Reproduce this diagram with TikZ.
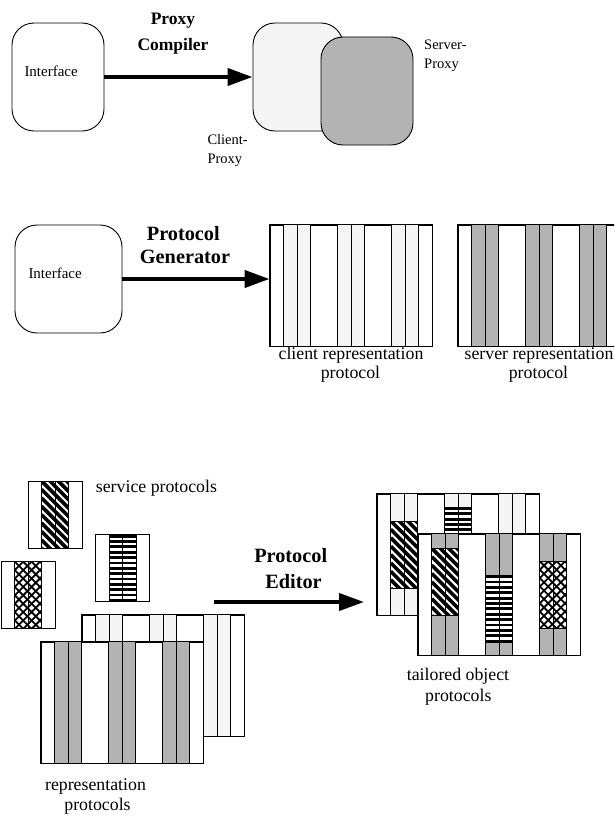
\documentclass[tikz,border=0pt]{standalone}
\usepackage{fontspec}
\setmainfont{Liberation Serif}
\usetikzlibrary{arrows.meta}
\definecolor{lightg}{HTML}{F5F5F5}
\definecolor{midg}{HTML}{B3B3B3}
\tikzset{
  thinline/.style={draw=black, line width=0.9pt},
  rbox/.style={draw=black, line width=0.9pt, rounded corners=22pt, inner sep=0pt, minimum height=108pt},
  stripbox/.style={draw=black, fill=white, line width=0.9pt, inner sep=0pt, minimum width=162pt, minimum height=121pt},
  svcbox/.style={draw=black, fill=white, line width=0.9pt, inner sep=0pt, minimum width=54pt, minimum height=67pt},
  bigarrow/.style={line width=4pt, -{Triangle[length=25pt,width=17pt]}},
  lbl/.style={font=\fontsize{17.8}{20}\selectfont, anchor=base, inner sep=0pt},
  lblw/.style={font=\fontsize{17.8}{20}\selectfont, anchor=base west, inner sep=0pt},
  ifl/.style={font=\fontsize{15}{18}\selectfont, anchor=base west, inner sep=0pt},
  pxl/.style={font=\fontsize{14.5}{18}\selectfont, anchor=base west, inner sep=0pt},
  tbold/.style={font=\fontsize{17.5}{20}\selectfont\bfseries, anchor=base, inner sep=0pt},
  bbold/.style={font=\fontsize{20.3}{24}\selectfont\bfseries, anchor=base, inner sep=0pt},
}
% strip box: name, left, top, fill colour
\newcommand{\protostrip}[4]{%
  \node[stripbox] (#1) at ({#2+81},{#3+60.5}) {};
  \foreach \i in {1,2,5,6,9,10} \fill[#4] ({#2+\i*13.5},#3) rectangle ({#2+(\i+1)*13.5},{#3+121});
  \foreach \i in {1,2,3,5,6,7,9,10,11} \draw[thinline] ({#2+\i*13.5},#3) -- ({#2+\i*13.5},{#3+121});
  \draw[thinline] (#1.north west) rectangle (#1.south east);
}
\newcommand{\hatchdiag}[2]{%
  \begin{scope}
    \clip (#1,#2) rectangle ({#1+27},{#2+67});
    \fill[white] (#1,#2) rectangle ({#1+27},{#2+67});
    \foreach \k in {-5,...,9} \draw[line width=3.6pt] ({#1},{#2+\k*8.4}) -- ++(40,40);
  \end{scope}
  \draw[thinline] (#1,#2) rectangle ({#1+27},{#2+67});
  \draw[thinline] ({#1+13.5},#2) -- ++(0,67);
}
\newcommand{\hatchhor}[2]{%
  \fill[white] (#1,#2) rectangle ({#1+27},{#2+67});
  \foreach \k in {0,...,12} \fill ({#1},{#2+\k*5.36}) rectangle ++(27,2.8);
  \draw[thinline] (#1,#2) rectangle ({#1+27},{#2+67});
  \draw[thinline] ({#1+13.5},#2) -- ++(0,67);
}
\newcommand{\hatchcross}[2]{%
  \begin{scope}
    \clip (#1,#2) rectangle ({#1+27},{#2+67});
    \fill[white] (#1,#2) rectangle ({#1+27},{#2+67});
    \foreach \k in {-9,...,12} {
      \draw[line width=1.8pt] ({#1+\k*8.4},#2) -- ++(70,70);
      \draw[line width=1.8pt] ({#1+\k*8.4},#2) -- ++(-70,70);
    }
  \end{scope}
  \draw[thinline] (#1,#2) rectangle ({#1+27},{#2+67});
  \draw[thinline] ({#1+13.5},#2) -- ++(0,67);
}
\begin{document}
\begin{tikzpicture}[x=1pt,y=-1pt]
\useasboundingbox (0,0) rectangle (614,816);
\clip (0,0) rectangle (614,816);

% ---------- top: proxy compiler ----------
\node[rbox, minimum width=92pt] (iface1) at (58,77) {};
\node[ifl] (iface1t) at (24.3,76.5) {Interface};
\node[rbox, minimum width=90pt, fill=lightg] (cproxy) at (298,77) {};
\node[rbox, minimum width=92pt, fill=midg] (sproxy) at (367,91) {};
\draw[bigarrow] (iface1.east) -- (cproxy.west);
\node[tbold] (pc1) at (173,25) {Proxy};
\node[tbold] (pc2) at (173,50.5) {Compiler};
\node[pxl] (sp1) at (424,49.5) {Server-};
\node[pxl] (sp2) at (424,68.5) {Proxy};
\node[pxl] (cp1) at (207.3,144) {Client-};
\node[pxl] (cp2) at (207.3,163) {Proxy};

% ---------- middle: protocol generator ----------
\node[rbox, minimum width=107pt] (iface2) at (68.5,279) {};
\node[ifl] (iface2t) at (28.3,278) {Interface};
\protostrip{client}{270}{225}{lightg}
\protostrip{server}{458.3}{225}{midg}
\draw[bigarrow] (iface2.east) -- (iface2.east -| client.west);
\node[bbold] (pg1) at (183.3,240) {Protocol};
\node[bbold] (pg2) at (185,263) {Generator};
\node[lbl] (cl1) at (351,359) {client representation};
\node[lbl] (cl2) at (350.5,378.3) {protocol};
\node[lbl] (sl1) at (539,359) {server representation};
\node[lbl] (sl2) at (538.5,378.3) {protocol};

% ---------- bottom: protocol editor ----------
\node[svcbox] (svcdiag) at (55,514.5) {};
\hatchdiag{41.5}{481}
\node[svcbox] (svchor) at (122.7,568.2) {};
\hatchhor{109.2}{534.7}
\node[svcbox] (svccross) at (28.3,595.2) {};
\hatchcross{14.8}{561.7}
\node[lblw] (svcl) at (95.7,492.7) {service protocols};

\protostrip{repback}{82}{615.3}{lightg}
\protostrip{repfront}{41.3}{642.3}{midg}
\node[lbl] (rl1) at (95.5,790) {representation};
\node[lbl] (rl2) at (97.5,810) {protocols};

\coordinate (edfrom) at (214,602);
\coordinate (edto) at (364,602);
\draw[bigarrow] (edfrom) -- (edto);
\node[bbold] (pe1) at (290.7,562) {Protocol};
\node[bbold] (pe2) at (293.5,588) {Editor};

\protostrip{tailback}{377.3}{494.3}{lightg}
\hatchdiag{390.8}{521}
\hatchhor{444.8}{507}
\protostrip{tailfront}{418.3}{534.3}{midg}
\hatchdiag{431.8}{548.3}
\hatchhor{485.8}{575.3}
\hatchcross{539.8}{561.3}
\node[lbl] (tl1) at (458,680.7) {tailored object};
\node[lbl] (tl2) at (458.3,701.7) {protocols};
\end{tikzpicture}
\end{document}
